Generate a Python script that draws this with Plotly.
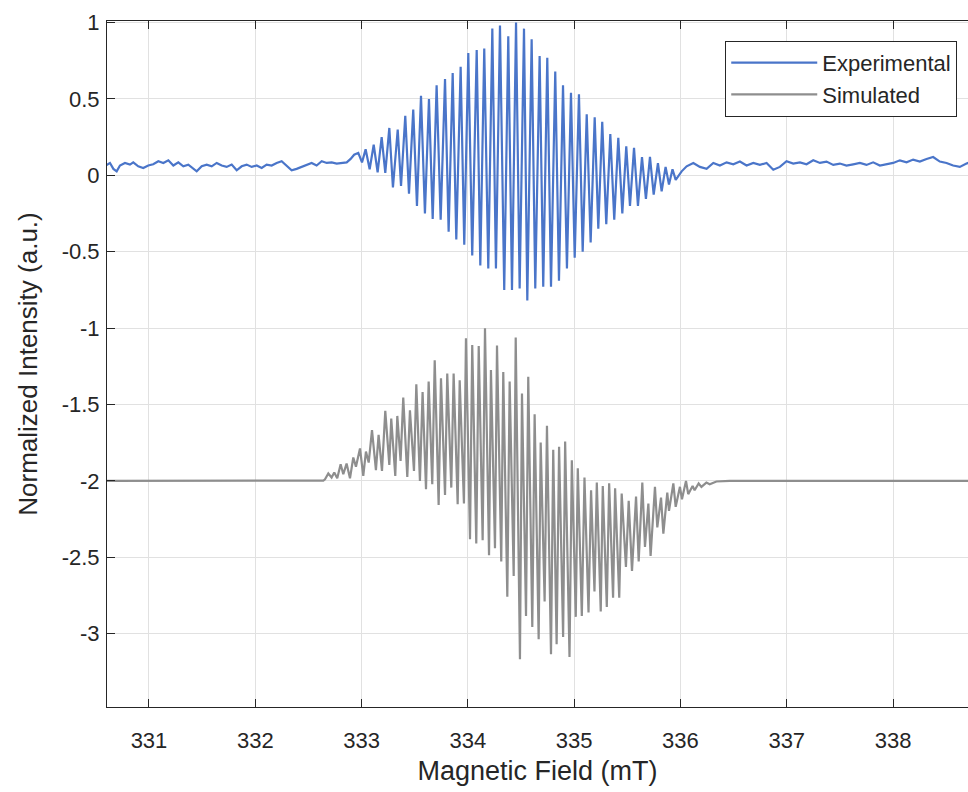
import plotly.graph_objects as go

# ---------------- Experimental spectrum (normalized) ----------------
# Baseline before the resonance
exp_base_left_B = [330.602, 330.633, 330.665, 330.696, 330.727, 330.774, 330.821, 330.852,
                   330.899, 330.946, 330.993, 331.040, 331.088, 331.135, 331.182, 331.229,
                   331.276, 331.323, 331.370, 331.417, 331.449, 331.496, 331.543, 331.590,
                   331.637, 331.684, 331.731, 331.778, 331.825, 331.872, 331.919, 331.966,
                   332.013, 332.060, 332.107, 332.154, 332.201, 332.248, 332.295, 332.342,
                   332.389, 332.436, 332.483, 332.530, 332.577, 332.625, 332.672, 332.719,
                   332.766, 332.813, 332.860, 332.897, 332.930]
exp_base_left_I = [0.067, 0.081, 0.042, 0.026, 0.064, 0.081, 0.070, 0.085,
                   0.059, 0.048, 0.064, 0.072, 0.092, 0.081, 0.098, 0.064,
                   0.085, 0.059, 0.070, 0.042, 0.026, 0.059, 0.070, 0.059,
                   0.081, 0.064, 0.055, 0.070, 0.033, 0.059, 0.070, 0.055,
                   0.064, 0.048, 0.070, 0.064, 0.081, 0.092, 0.064, 0.033,
                   0.042, 0.055, 0.070, 0.081, 0.064, 0.092, 0.081, 0.085,
                   0.077, 0.081, 0.085, 0.107, 0.135]

# Hyperfine lines: maxima and minima
exp_peak_B = [332.969, 333.038, 333.114, 333.189, 333.261, 333.340, 333.411, 333.486,
              333.559, 333.634, 333.706, 333.785, 333.857, 333.932, 334.004, 334.083,
              334.154, 334.230, 334.302, 334.380, 334.453, 334.528, 334.600, 334.675,
              334.747, 334.822, 334.895, 334.970, 335.045, 335.118, 335.193, 335.264,
              335.340, 335.415, 335.490, 335.563, 335.638, 335.713, 335.788, 335.860]
exp_peak_I = [0.147, 0.170, 0.200, 0.250, 0.310, 0.300, 0.390, 0.430,
              0.520, 0.500, 0.590, 0.630, 0.670, 0.710, 0.800, 0.820,
              0.830, 0.960, 0.980, 0.910, 1.000, 0.960, 0.890, 0.780,
              0.770, 0.680, 0.590, 0.540, 0.530, 0.400, 0.380, 0.350,
              0.270, 0.245, 0.190, 0.180, 0.120, 0.120, 0.080, 0.055]
exp_trough_B = [333.004, 333.076, 333.151, 333.223, 333.295, 333.371, 333.446, 333.521,
                333.596, 333.669, 333.744, 333.819, 333.891, 333.966, 334.041, 334.117,
                334.192, 334.264, 334.342, 334.415, 334.487, 334.559, 334.634, 334.709,
                334.782, 334.857, 334.932, 335.005, 335.080, 335.155, 335.227, 335.302,
                335.377, 335.453, 335.525, 335.600, 335.675, 335.748, 335.823, 335.892]
exp_trough_I = [0.085, 0.040, 0.020, 0.016, -0.080, -0.070, -0.120, -0.200,
                -0.250, -0.285, -0.290, -0.370, -0.420, -0.455, -0.525, -0.590,
                -0.610, -0.610, -0.750, -0.750, -0.740, -0.820, -0.740, -0.730,
                -0.730, -0.690, -0.610, -0.540, -0.500, -0.440, -0.350, -0.320,
                -0.290, -0.250, -0.200, -0.200, -0.155, -0.126, -0.105, -0.060]

# Baseline after the resonance
exp_base_right_B = [335.925, 335.955, 336.011, 336.058, 336.121, 336.183, 336.246, 336.309,
                    336.371, 336.434, 336.497, 336.559, 336.622, 336.685, 336.747, 336.810,
                    336.873, 336.935, 336.998, 337.061, 337.124, 337.186, 337.249, 337.312,
                    337.374, 337.437, 337.500, 337.562, 337.625, 337.688, 337.750, 337.813,
                    337.876, 337.938, 338.001, 338.064, 338.127, 338.189, 338.252, 338.315,
                    338.377, 338.440, 338.503, 338.565, 338.628, 338.691, 338.722]
exp_base_right_I = [0.040, -0.030, 0.026, 0.059, 0.081, 0.055, 0.042, 0.081,
                    0.064, 0.085, 0.072, 0.090, 0.064, 0.081, 0.068, 0.081,
                    0.037, 0.055, 0.092, 0.077, 0.085, 0.072, 0.098, 0.081,
                    0.090, 0.068, 0.077, 0.064, 0.072, 0.081, 0.068, 0.085,
                    0.064, 0.072, 0.081, 0.098, 0.085, 0.103, 0.090, 0.107,
                    0.120, 0.090, 0.081, 0.064, 0.055, 0.077, 0.085]

# ---------------- Simulated spectrum (offset by -2) ----------------
sim_peak_B = [332.687, 332.743, 332.803, 332.859, 332.922, 332.985, 333.041, 333.098,
              333.160, 333.223, 333.279, 333.336, 333.392, 333.455, 333.515, 333.574,
              333.631, 333.688, 333.747, 333.806, 333.866, 333.923, 333.982, 334.041,
              334.102, 334.161, 334.217, 334.274, 334.333, 334.393, 334.450, 334.509,
              334.568, 334.628, 334.685, 334.744, 334.803, 334.858, 334.915, 334.978,
              335.034, 335.097, 335.159, 335.213, 335.269, 335.329, 335.385, 335.447,
              335.513, 335.582, 335.641, 335.698, 335.760, 335.817, 335.876, 335.933,
              335.995, 336.052, 336.114, 336.171, 336.244]
sim_peak_I = [-1.952, -1.945, -1.891, -1.887, -1.847, -1.788, -1.808, -1.668,
              -1.699, -1.542, -1.592, -1.575, -1.455, -1.538, -1.367, -1.418,
              -1.350, -1.210, -1.328, -1.298, -1.298, -1.341, -1.066, -1.110,
              -1.117, -1.001, -1.274, -1.114, -1.287, -1.350, -1.062, -1.428,
              -1.319, -1.564, -1.749, -1.640, -1.796, -1.777, -1.743, -1.865,
              -1.917, -1.978, -2.061, -2.011, -2.033, -2.015, -2.048, -2.083,
              -2.131, -2.103, -2.011, -2.148, -2.039, -2.109, -2.076, -2.017,
              -2.039, -2.000, -2.033, -2.017, -2.011]
sim_trough_B = [332.718, 332.771, 332.828, 332.891, 332.947, 333.016, 333.067, 333.135,
                333.192, 333.261, 333.317, 333.367, 333.430, 333.493, 333.549, 333.606,
                333.665, 333.725, 333.785, 333.844, 333.904, 333.963, 334.020, 334.079,
                334.139, 334.199, 334.255, 334.314, 334.371, 334.431, 334.490, 334.547,
                334.606, 334.666, 334.722, 334.782, 334.835, 334.896, 334.956, 335.015,
                335.072, 335.135, 335.191, 335.250, 335.307, 335.366, 335.424, 335.487,
                335.544, 335.607, 335.666, 335.719, 335.782, 335.839, 335.892, 335.955,
                336.014, 336.073, 336.133, 336.197, 336.275]
sim_trough_I = [-1.978, -1.983, -1.956, -1.983, -1.908, -1.967, -1.880, -1.930,
                -1.935, -1.895, -1.967, -1.869, -1.974, -1.935, -2.000, -2.055,
                -2.022, -2.157, -2.092, -2.044, -2.153, -2.148, -2.382, -2.410,
                -2.388, -2.486, -2.441, -2.528, -2.759, -2.622, -3.167, -2.884,
                -2.956, -3.036, -2.790, -3.134, -3.069, -3.021, -3.152, -2.890,
                -2.884, -2.862, -2.724, -2.855, -2.825, -2.764, -2.764, -2.563,
                -2.589, -2.528, -2.432, -2.491, -2.305, -2.345, -2.196, -2.170,
                -2.120, -2.087, -2.061, -2.039, -2.022]
sim_edge_left_B = [330.600, 332.560, 332.640, 332.656]
sim_edge_left_I = [-2.000, -2.000, -1.998, -1.990]
sim_edge_right_B = [336.338, 336.463, 338.720]
sim_edge_right_I = [-2.004, -2.000, -2.000]


def merge(*segments):
    """Combine (field, intensity) segments into one field-sorted trace."""
    pts = []
    for b, v in segments:
        pts.extend(zip(b, v))
    pts.sort(key=lambda p: p[0])
    return [p[0] for p in pts], [p[1] for p in pts]


exp_B, exp_I = merge((exp_base_left_B, exp_base_left_I),
                     (exp_peak_B, exp_peak_I),
                     (exp_trough_B, exp_trough_I),
                     (exp_base_right_B, exp_base_right_I))
sim_B, sim_I = merge((sim_edge_left_B, sim_edge_left_I),
                     (sim_peak_B, sim_peak_I),
                     (sim_trough_B, sim_trough_I),
                     (sim_edge_right_B, sim_edge_right_I))

x_ticks = [331, 332, 333, 334, 335, 336, 337, 338]
y_ticks = [1, 0.5, 0, -0.5, -1, -1.5, -2, -2.5, -3]

FONT = "Liberation Sans, Arial, Helvetica, sans-serif"
AXIS_COLOR = "#262626"
GRID_COLOR = "#E1E1E1"

fig = go.Figure()
fig.add_trace(go.Scatter(
    x=exp_B, y=exp_I, mode="lines", name="Experimental",
    legendgroup="exp",
    line=dict(color="#4A75C9", width=2.2, shape="linear"),
))
fig.add_trace(go.Scatter(
    x=sim_B, y=sim_I, mode="lines", name="Simulated",
    legendgroup="sim",
    line=dict(color="#8E8E8E", width=2.2, shape="linear"),
))

fig.update_layout(
    width=968, height=792,
    margin=dict(l=107, r=0, t=21, b=85),
    paper_bgcolor="white", plot_bgcolor="white",
    font=dict(family=FONT, color=AXIS_COLOR),
    showlegend=True,
    legend=dict(
        x=0.9875, y=0.971, xanchor="right", yanchor="top",
        bgcolor="white", bordercolor=AXIS_COLOR, borderwidth=1,
        font=dict(family=FONT, size=22, color=AXIS_COLOR),
        itemwidth=86, entrywidth=145, traceorder="grouped", tracegroupgap=0,
    ),
)
fig.update_xaxes(
    range=[330.605, 338.705],
    tickvals=x_ticks, ticktext=[str(v) for v in x_ticks],
    ticks="inside", ticklen=8, tickcolor=AXIS_COLOR, tickwidth=1,
    showline=True, linecolor=AXIS_COLOR, linewidth=1, mirror="ticks",
    showgrid=True, gridcolor=GRID_COLOR, gridwidth=1,
    zeroline=False,
    tickfont=dict(size=22, color=AXIS_COLOR),
    ticklabelstandoff=14,
    title=dict(text="Magnetic Field (mT)", font=dict(size=27, color=AXIS_COLOR), standoff=8),
)
fig.update_yaxes(
    range=[-3.48, 1.01],
    tickvals=y_ticks, ticktext=[f"{v:g}" for v in y_ticks],
    ticks="inside", ticklen=8, tickcolor=AXIS_COLOR, tickwidth=1,
    showline=True, linecolor=AXIS_COLOR, linewidth=1,
    showgrid=True, gridcolor=GRID_COLOR, gridwidth=1,
    zeroline=False,
    tickfont=dict(size=22, color=AXIS_COLOR),
    ticklabelstandoff=2,
    title=dict(text="Normalized Intensity (a.u.)", font=dict(size=26, color=AXIS_COLOR), standoff=16),
)

fig.write_html("out.html")
